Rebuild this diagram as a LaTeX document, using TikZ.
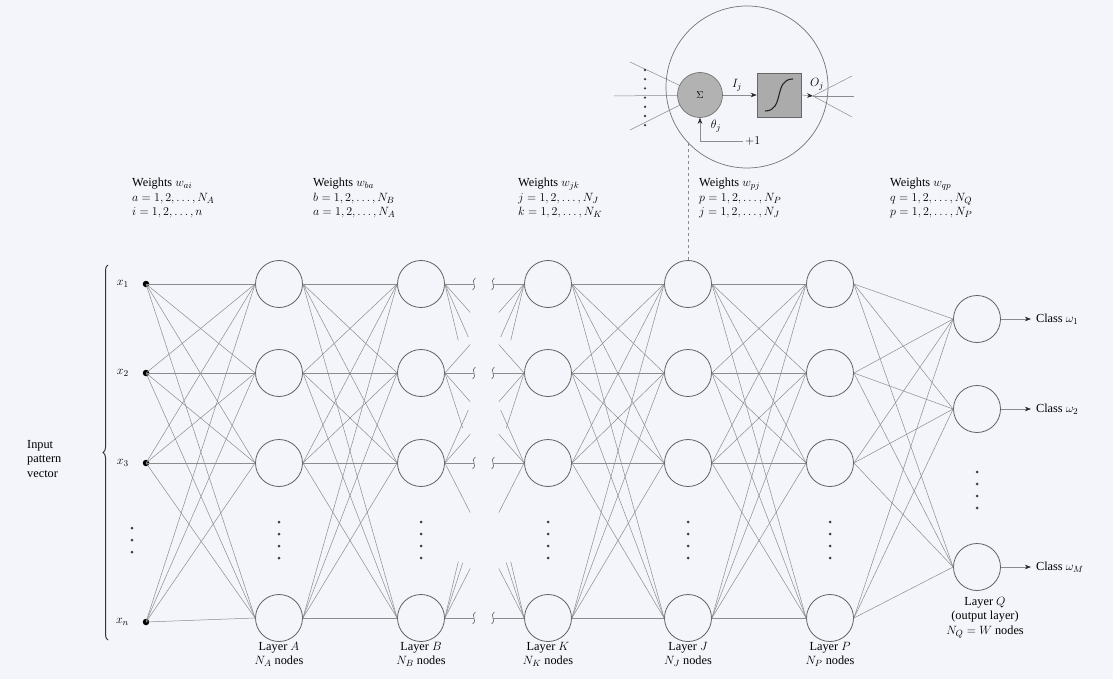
\documentclass[tikz,border=0pt]{standalone}
\usepackage{fontspec}
\setmainfont{Liberation Serif}
\usetikzlibrary{calc,arrows.meta,decorations.pathreplacing}
\definecolor{bgc}{RGB}{243,245,250}
\begin{document}
\begin{tikzpicture}[x=1pt,y=-1pt,
  neuron/.style={circle,draw=black!62,line width=0.8pt,minimum size=47pt,inner sep=0pt},
  inp/.style={circle,fill=black,minimum size=6.5pt,inner sep=0pt},
  conn/.style={draw=black!45,line width=0.5pt},
  txt/.style={font=\fontsize{12.3}{14.5}\selectfont,inner sep=0pt},
  lbl/.style={txt,align=left,anchor=north west},
  blbl/.style={txt,align=center,anchor=north},
  dotc/.style={circle,fill=black!75,minimum size=3pt,inner sep=0pt},
  tip/.style={-{Stealth[length=6pt,width=4.5pt,color=black!85]}},
  brk/.style={draw=black!60,line width=0.6pt}
]
\useasboundingbox (0,0) rectangle (1113,679);
\fill[bgc] (0,0) rectangle (1113,679);

% ---------- layers ----------
\foreach \lay/\lx in {A/279,B/421,K/548,J/688,P/830}{
  \foreach \r/\ry in {1/284,2/373,3/463,4/618}{
    \node[neuron] (\lay\r) at (\lx,\ry) {};
  }
  \foreach \k/\dy in {1/522,2/534,3/546,4/558}{
    \node[dotc] (d\lay\k) at (\lx,\dy) {};
  }
}
% output layer
\node[neuron] (Q1) at (977,319) {};
\node[neuron] (Q2) at (977,409) {};
\node[neuron] (Q3) at (977,567) {};
\foreach \k/\dy in {1/472,2/484,3/496,4/508}{
  \node[dotc] (dQ\k) at (977,\dy) {};
}

% ---------- inputs ----------
\foreach \r/\ry/\lab in {1/284/1,2/373/2,3/463/3,4/622/n}{
  \node[inp] (I\r) at (146,\ry) {};
  \node[txt,anchor=east] (xl\r) at (129,\ry) {$x_{\lab}$};
}
\foreach \k/\dy in {1/528,2/540,3/552}{
  \node[dotc] (dI\k) at (132,\dy) {};
}
\draw[decorate,decoration={brace,amplitude=5pt},line width=1pt,black!80] (108,640) -- (108,265);
\node[lbl] (ipv) at (27,440) {Input\\pattern\\vector};

% ---------- full connections ----------
\foreach \i in {1,...,4}{
  \foreach \j in {1,...,4}{
    \draw[conn] (I\i.center) -- (A\j.west);
    \draw[conn] (A\i.east) -- (B\j.west);
    \draw[conn] (K\i.east) -- (J\j.west);
    \draw[conn] (J\i.east) -- (P\j.west);
  }
  \foreach \j in {1,2,3}{
    \draw[conn] (P\i.east) -- (Q\j.west);
  }
}

% ---------- broken connections between B and K ----------
\foreach \i/\yi in {1/284,2/373,3/463,4/618}{
  \foreach \j/\yj in {1/284,2/373,3/463,4/618}{
    \ifnum\i=\j\relax\else
      \pgfmathsetmacro\stubd{veclen(79,\yj-\yi)}
      \pgfmathsetmacro\stublen{min(0.32*\stubd,58)}
      \draw[conn] (B\i.east) -- ($(B\i.east)!\stublen pt!(K\j.west)$);
      \draw[conn] (K\j.west) -- ($(K\j.west)!\stublen pt!(B\i.east)$);
    \fi
  }
  \coordinate (bl\i) at (474,\yi);
  \coordinate (br\i) at (493,\yi);
  \draw[conn] (B\i.east) -- (bl\i);
  \draw[conn] (br\i) -- (K\i.west);
  \draw[brk] ($(bl\i)+(-1.5,6)$) .. controls +(6,-2) and +(-6,2) .. ($(bl\i)+(1.5,-6)$);
  \draw[brk] ($(br\i)+(-1.5,6)$) .. controls +(6,-2) and +(-6,2) .. ($(br\i)+(1.5,-6)$);
}

% ---------- outputs ----------
\foreach \r/\lab in {1/1,2/2,3/M}{
  \coordinate (ce\r) at ($(Q\r.east)+(30,0)$);
  \draw[conn,tip] (Q\r.east) -- (ce\r);
  \node[txt,anchor=west] (cl\r) at ($(ce\r)+(5,0)$) {Class $\omega_{\lab}$};
}

% ---------- weight labels ----------
\node[lbl] (wA) at (132,178) {Weights $w_{ai}$\\$a = 1, 2, \ldots, N_A$\\$i = 1, 2, \ldots, n$};
\node[lbl] (wB) at (313,178) {Weights $w_{ba}$\\$b = 1, 2, \ldots, N_B$\\$a = 1, 2, \ldots, N_A$};
\node[lbl] (wK) at (518,178) {Weights $w_{jk}$\\$j = 1, 2, \ldots, N_J$\\$k = 1, 2, \ldots, N_K$};
\node[lbl] (wJ) at (699,178) {Weights $w_{pj}$\\$p = 1, 2, \ldots, N_P$\\$j = 1, 2, \ldots, N_J$};
\node[lbl] (wP) at (890,178) {Weights $w_{qp}$\\$q = 1, 2, \ldots, N_Q$\\$p = 1, 2, \ldots, N_P$};

% ---------- layer labels ----------
\node[blbl] (lA) at (279,642) {Layer $A$\\$N_A$ nodes};
\node[blbl] (lB) at (421,642) {Layer $B$\\$N_B$ nodes};
\node[blbl] (lK) at (548,642) {Layer $K$\\$N_K$ nodes};
\node[blbl] (lJ) at (688,642) {Layer $J$\\$N_J$ nodes};
\node[blbl] (lP) at (830,642) {Layer $P$\\$N_P$ nodes};
\node[blbl] (lQ) at (985,597) {Layer $Q$\\(output layer)\\$N_Q = W$ nodes};

% ---------- neuron detail ----------
\node[circle,draw=black!55,line width=0.7pt,minimum size=162pt,inner sep=0pt] (big) at (747,87) {};
\draw[conn,dashed] (J1.north) -- (J1.north |- big.222);
\node[circle,draw=black!60,fill=black!30,line width=0.6pt,minimum size=45pt,inner sep=0pt] (sig) at (700,95) {$\Sigma$};
\node[rectangle,draw=black!60,fill=black!33,line width=0.6pt,minimum width=44pt,minimum height=44pt,inner sep=0pt] (act) at (779,95) {};
\draw[black!85,line width=1.1pt] ($(act.center)+(-14,16)$) .. controls +(20,0) and +(-20,0) .. ($(act.center)+(14,-16)$);
\draw[conn,tip] (sig.east) -- (act.west);
\node[txt] (Ilab) at (737,85) {$I_j$};
\coordinate (ot) at (813,96);
\draw[conn,tip] (act.east) -- (ot);
\node[txt] (Olab) at (817,84) {$O_j$};
\coordinate (o1) at (852,76);
\coordinate (o2) at (854,96);
\coordinate (o3) at (852,117);
\foreach \k in {1,2,3}{ \draw[conn] (ot) -- (o\k); }
\coordinate (il1) at (630,62);
\coordinate (il2) at (614,96);
\coordinate (il3) at (630,130);
\foreach \k in {1,2,3}{ \draw[conn] (il\k) -- (sig); }
\foreach \k in {0,...,6}{
  \node[dotc,minimum size=2.6pt] (sd\k) at (645,{70+9.2*\k}) {};
}
\coordinate (th) at ($(sig.south)+(0,23)$);
\coordinate (pone) at ($(th)+(43,0)$);
\draw[conn,tip] (th) -- (sig.south);
\draw[conn] (th) -- (pone);
\node[txt,anchor=west] (plus) at ($(pone)+(2,0)$) {$+1$};
\node[txt] (thl) at (716,126) {$\theta_j$};
\end{tikzpicture}
\end{document}
